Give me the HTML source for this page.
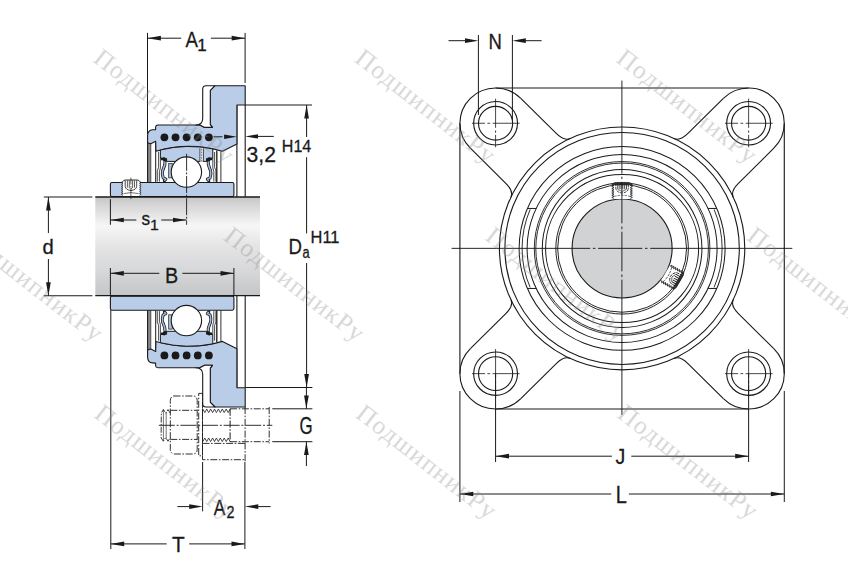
<!DOCTYPE html>
<html><head><meta charset="utf-8"><title>Flanged bearing unit</title>
<style>html,body{margin:0;padding:0;background:#fff;}svg{display:block;}</style></head>
<body>
<svg width="848" height="576" viewBox="0 0 848 576">
<defs>
<linearGradient id="sh" x1="0" y1="0" x2="0" y2="1"><stop offset="0" stop-color="#c6c6c7"/><stop offset="0.1" stop-color="#d8d8d9"/><stop offset="0.29" stop-color="#f6f6f6"/><stop offset="0.5" stop-color="#e4e4e5"/><stop offset="0.76" stop-color="#d6d7d9"/><stop offset="1" stop-color="#c4c5c7"/></linearGradient>
</defs>
<rect width="848" height="576" fill="#ffffff"/>
<line x1="236.9" y1="105" x2="236.9" y2="387.6" stroke="#1a1a1a" stroke-width="1.1" />
<line x1="245.2" y1="105" x2="245.2" y2="387.6" stroke="#1a1a1a" stroke-width="1.1" />
<g id="uh"><rect x="147.6" y="142.8" width="3.1" height="39.7" fill="#8a8a8a"/>
<line x1="147.6" y1="135" x2="147.6" y2="182.5" stroke="#1a1a1a" stroke-width="1.1" />
<line x1="150.8" y1="143.5" x2="150.8" y2="182.5" stroke="#1a1a1a" stroke-width="0.7" />
<line x1="155.7" y1="143" x2="155.7" y2="182.5" stroke="#1a1a1a" stroke-width="1.0" />
<line x1="216.8" y1="150.5" x2="216.8" y2="182.5" stroke="#1a1a1a" stroke-width="1.3" />
<line x1="220.9" y1="151.2" x2="220.9" y2="182.5" stroke="#1a1a1a" stroke-width="0.9" />
<path d="M215,85.7 L245.2,85.7 L245.2,105 L236.9,105 L236.9,143.9 L222.5,151.3 A119,119 0 0 0 155.9,151.2 L155.7,141.3 L150.8,143.7 L147.6,142.7 L147.6,135.5 Q147.8,130.2 152.5,129.8 L155.6,129.6 L155.6,127 Q155.8,125 158,125 L196,125 L199.9,124.9 L204.6,127.4 L212.4,127.4 L210.3,124.6 L210.3,90.4 Z" fill="#b9cde9" stroke="#1a1a1a" stroke-width="1.1" stroke-linejoin="round"/>
<path d="M196,125 Q202.7,124.6 202.7,118.5 L202.7,89 Q202.7,85.7 206,85.7 L215,85.7 L210.3,90.4 L210.3,124.6 L212.4,127.4 L204.6,127.4 L199.9,124.9 Z" fill="#fff" stroke="#1a1a1a" stroke-width="1.1" stroke-linejoin="round"/>
<circle cx="164.40" cy="137.3" r="3.9" fill="#1a1a1a"/>
<circle cx="175.52" cy="137.3" r="3.9" fill="#1a1a1a"/>
<circle cx="186.64" cy="137.3" r="3.9" fill="#1a1a1a"/>
<circle cx="197.76" cy="137.3" r="3.9" fill="#1a1a1a"/>
<circle cx="208.88" cy="137.3" r="3.9" fill="#1a1a1a"/>
<path d="M160.4,149.99 A119,119 0 0 1 212.8,148.90 L212.8,158.4 L206.6,158.4 L206.6,161.4 L166.6,161.4 L166.6,158.4 L160.4,158.4 Z" fill="#b9cde9" stroke="#1a1a1a" stroke-width="1" stroke-linejoin="round"/>
<rect x="168.7" y="163.6" width="3.5" height="14.3" fill="#a9bfe0" stroke="#1a1a1a" stroke-width="0.7"/>
<path d="M158.60,152 L158.60,167.4 L157.30,170.8 L157.30,181.6" stroke="#1a1a1a" stroke-width="0.8" fill="none"/>
<path d="M160.40,158.4 L160.40,168 L159.40,171.5 L159.40,181.6" stroke="#1a1a1a" stroke-width="0.8" fill="none"/>
<path d="M165.00,161.0 C165.60,165 163.60,168 162.70,170.4 C162.00,173 162.40,176 163.20,177.9 L165.80,179.2 L164.40,180.8" stroke="#1a1a1a" stroke-width="3.1" fill="none" stroke-linecap="round" stroke-linejoin="round"/>
<path d="M165.00,161.0 C165.60,165 163.60,168 162.70,170.4 C162.00,173 162.40,176 163.20,177.9 L165.80,179.2 L164.40,180.8" stroke="#9fb9e2" stroke-width="1.5" fill="none" stroke-linecap="butt" stroke-linejoin="round"/>
<path d="M161.00,157.8 L163.20,157.6 L164.20,156.9 L166.60,159.4 L166.00,162 L163.80,161.0 L162.60,160.2 L161.00,160.2 Z" fill="#1a1a1a"/>
<path d="M214.60,152 L214.60,167.4 L215.90,170.8 L215.90,181.6" stroke="#1a1a1a" stroke-width="0.8" fill="none"/>
<path d="M212.80,158.4 L212.80,168 L213.80,171.5 L213.80,181.6" stroke="#1a1a1a" stroke-width="0.8" fill="none"/>
<path d="M208.20,161.0 C207.60,165 209.60,168 210.50,170.4 C211.20,173 210.80,176 210.00,177.9 L207.40,179.2 L208.80,180.8" stroke="#1a1a1a" stroke-width="3.1" fill="none" stroke-linecap="round" stroke-linejoin="round"/>
<path d="M208.20,161.0 C207.60,165 209.60,168 210.50,170.4 C211.20,173 210.80,176 210.00,177.9 L207.40,179.2 L208.80,180.8" stroke="#9fb9e2" stroke-width="1.5" fill="none" stroke-linecap="butt" stroke-linejoin="round"/>
<path d="M212.20,157.8 L210.00,157.6 L209.00,156.9 L206.60,159.4 L207.20,162 L209.40,161.0 L210.60,160.2 L212.20,160.2 Z" fill="#1a1a1a"/>
<rect x="110.4" y="182.5" width="123.5" height="14.1" rx="1.6" fill="#b9cde9" stroke="#1a1a1a" stroke-width="1.1"/>
<circle cx="186.4" cy="172.1" r="15.2" fill="#fff" stroke="#1a1a1a" stroke-width="1.1"/></g>
<g transform="translate(0 492.7) scale(1 -1)"><rect x="147.6" y="142.8" width="3.1" height="39.7" fill="#8a8a8a"/>
<line x1="147.6" y1="135" x2="147.6" y2="182.5" stroke="#1a1a1a" stroke-width="1.1" />
<line x1="150.8" y1="143.5" x2="150.8" y2="182.5" stroke="#1a1a1a" stroke-width="0.7" />
<line x1="155.7" y1="143" x2="155.7" y2="182.5" stroke="#1a1a1a" stroke-width="1.0" />
<line x1="216.8" y1="150.5" x2="216.8" y2="182.5" stroke="#1a1a1a" stroke-width="1.3" />
<line x1="220.9" y1="151.2" x2="220.9" y2="182.5" stroke="#1a1a1a" stroke-width="0.9" />
<path d="M215,85.7 L245.2,85.7 L245.2,105 L236.9,105 L236.9,143.9 L222.5,151.3 A119,119 0 0 0 155.9,151.2 L155.7,141.3 L150.8,143.7 L147.6,142.7 L147.6,135.5 Q147.8,130.2 152.5,129.8 L155.6,129.6 L155.6,127 Q155.8,125 158,125 L196,125 L199.9,124.9 L204.6,127.4 L212.4,127.4 L210.3,124.6 L210.3,90.4 Z" fill="#b9cde9" stroke="#1a1a1a" stroke-width="1.1" stroke-linejoin="round"/>
<path d="M196,125 Q202.7,124.6 202.7,118.5 L202.7,89 Q202.7,85.7 206,85.7 L215,85.7 L210.3,90.4 L210.3,124.6 L212.4,127.4 L204.6,127.4 L199.9,124.9 Z" fill="#fff" stroke="#1a1a1a" stroke-width="1.1" stroke-linejoin="round"/>
<circle cx="164.40" cy="137.3" r="3.9" fill="#1a1a1a"/>
<circle cx="175.52" cy="137.3" r="3.9" fill="#1a1a1a"/>
<circle cx="186.64" cy="137.3" r="3.9" fill="#1a1a1a"/>
<circle cx="197.76" cy="137.3" r="3.9" fill="#1a1a1a"/>
<circle cx="208.88" cy="137.3" r="3.9" fill="#1a1a1a"/>
<path d="M160.4,149.99 A119,119 0 0 1 212.8,148.90 L212.8,158.4 L206.6,158.4 L206.6,161.4 L166.6,161.4 L166.6,158.4 L160.4,158.4 Z" fill="#b9cde9" stroke="#1a1a1a" stroke-width="1" stroke-linejoin="round"/>
<rect x="168.7" y="163.6" width="3.5" height="14.3" fill="#a9bfe0" stroke="#1a1a1a" stroke-width="0.7"/>
<path d="M158.60,152 L158.60,167.4 L157.30,170.8 L157.30,181.6" stroke="#1a1a1a" stroke-width="0.8" fill="none"/>
<path d="M160.40,158.4 L160.40,168 L159.40,171.5 L159.40,181.6" stroke="#1a1a1a" stroke-width="0.8" fill="none"/>
<path d="M165.00,161.0 C165.60,165 163.60,168 162.70,170.4 C162.00,173 162.40,176 163.20,177.9 L165.80,179.2 L164.40,180.8" stroke="#1a1a1a" stroke-width="3.1" fill="none" stroke-linecap="round" stroke-linejoin="round"/>
<path d="M165.00,161.0 C165.60,165 163.60,168 162.70,170.4 C162.00,173 162.40,176 163.20,177.9 L165.80,179.2 L164.40,180.8" stroke="#9fb9e2" stroke-width="1.5" fill="none" stroke-linecap="butt" stroke-linejoin="round"/>
<path d="M161.00,157.8 L163.20,157.6 L164.20,156.9 L166.60,159.4 L166.00,162 L163.80,161.0 L162.60,160.2 L161.00,160.2 Z" fill="#1a1a1a"/>
<path d="M214.60,152 L214.60,167.4 L215.90,170.8 L215.90,181.6" stroke="#1a1a1a" stroke-width="0.8" fill="none"/>
<path d="M212.80,158.4 L212.80,168 L213.80,171.5 L213.80,181.6" stroke="#1a1a1a" stroke-width="0.8" fill="none"/>
<path d="M208.20,161.0 C207.60,165 209.60,168 210.50,170.4 C211.20,173 210.80,176 210.00,177.9 L207.40,179.2 L208.80,180.8" stroke="#1a1a1a" stroke-width="3.1" fill="none" stroke-linecap="round" stroke-linejoin="round"/>
<path d="M208.20,161.0 C207.60,165 209.60,168 210.50,170.4 C211.20,173 210.80,176 210.00,177.9 L207.40,179.2 L208.80,180.8" stroke="#9fb9e2" stroke-width="1.5" fill="none" stroke-linecap="butt" stroke-linejoin="round"/>
<path d="M212.20,157.8 L210.00,157.6 L209.00,156.9 L206.60,159.4 L207.20,162 L209.40,161.0 L210.60,160.2 L212.20,160.2 Z" fill="#1a1a1a"/>
<rect x="110.4" y="182.5" width="123.5" height="14.1" rx="1.6" fill="#b9cde9" stroke="#1a1a1a" stroke-width="1.1"/>
<circle cx="186.4" cy="172.1" r="15.2" fill="#fff" stroke="#1a1a1a" stroke-width="1.1"/></g>
<rect x="199.9" y="148.3" width="3.6" height="13.6" fill="#e4e8ee"/>
<line x1="199.9" y1="148.2" x2="199.9" y2="162" stroke="#1a1a1a" stroke-width="0.7" />
<line x1="203.5" y1="148.4" x2="203.5" y2="162" stroke="#1a1a1a" stroke-width="0.7" />
<line x1="201.7" y1="149" x2="201.7" y2="162" stroke="#1a1a1a" stroke-width="0.6" stroke-dasharray="1.5 1.2"/>
<rect x="95.3" y="197" width="164.7" height="98.7" fill="url(#sh)"/>
<line x1="43.8" y1="197" x2="92.4" y2="197" stroke="#1a1a1a" stroke-width="1.1" />
<line x1="95.3" y1="197" x2="260" y2="197" stroke="#1a1a1a" stroke-width="1.3" />
<line x1="43.8" y1="295.7" x2="92.4" y2="295.7" stroke="#1a1a1a" stroke-width="1.1" />
<line x1="95.3" y1="295.7" x2="260" y2="295.7" stroke="#1a1a1a" stroke-width="1.3" />
<path d="M122.6,182 Q122.6,180 125,180 L137.3,180 Q139.9,180 139.9,182 L139.9,196 L122.6,196 Z" fill="#fff" stroke="none"/>
<path d="M122.8,181.5 L121.4,182.3 L123.0,183.3 L121.4,184.3 L123.0,185.3 L121.4,186.3 L123.0,187.3 L121.4,188.3 L123.0,189.3 L121.4,190.3 L123.0,191.3 L121.4,192.3 L123.0,193.3 L121.4,194.3 L123.0,195.3" fill="none" stroke="#1a1a1a" stroke-width="0.7"/>
<path d="M139.7,181.5 L141.1,182.3 L139.5,183.3 L141.1,184.3 L139.5,185.3 L141.1,186.3 L139.5,187.3 L141.1,188.3 L139.5,189.3 L141.1,190.3 L139.5,191.3 L141.1,192.3 L139.5,193.3 L141.1,194.3 L139.5,195.3" fill="none" stroke="#1a1a1a" stroke-width="0.7"/>
<path d="M123,181.6 Q123.4,180 125.4,180 L137,180 Q139.3,180 139.6,181.6" fill="none" stroke="#1a1a1a" stroke-width="0.9"/>
<path d="M125.2,180.4 L125.2,186.5 Q125.6,189.8 130.9,190.6 Q136.3,189.8 136.7,186.5 L136.7,180.4" fill="none" stroke="#1a1a1a" stroke-width="0.8"/>
<line x1="127.4" y1="180.4" x2="127.4" y2="187.6" stroke="#1a1a1a" stroke-width="0.7" />
<line x1="129.3" y1="180.4" x2="129.3" y2="187.6" stroke="#1a1a1a" stroke-width="0.7" />
<line x1="132.6" y1="180.4" x2="132.6" y2="187.6" stroke="#1a1a1a" stroke-width="0.7" />
<line x1="134.5" y1="180.4" x2="134.5" y2="187.6" stroke="#1a1a1a" stroke-width="0.7" />
<path d="M129.3,187.6 L130.9,189.2 L132.6,187.6" fill="none" stroke="#1a1a1a" stroke-width="0.7"/>
<path d="M123.5,193.6 Q131,191.6 138.6,193.6" fill="none" stroke="#1a1a1a" stroke-width="0.6"/>
<line x1="130.9" y1="177.6" x2="130.9" y2="199.8" stroke="#1a1a1a" stroke-width="0.7" stroke-dasharray="7 1.5 1.5 1.5"/>
<line x1="186.6" y1="153.8" x2="186.6" y2="224.8" stroke="#1a1a1a" stroke-width="0.9" stroke-dasharray="17 1.6 2 1.6"/>
<path d="M173.5,396 L194,396 Q197.2,397 197.2,400.5 L197.2,449.5 Q197.2,453 194,454 L173.5,454 Q170.3,453 170.3,449.5 L170.3,400.5 Q170.3,397 173.5,396 Z" fill="none" stroke="#1a1a1a" stroke-width="0.9" stroke-dasharray="7 1.6 1.6 1.6"/>
<path d="M170.3,410.3 L197.2,410.3 M170.3,439.4 L197.2,439.4" fill="none" stroke="#1a1a1a" stroke-width="0.9" stroke-dasharray="7 1.6 1.6 1.6"/>
<rect x="198.7" y="393.4" width="3.8" height="62.4" fill="none" stroke="#1a1a1a" stroke-width="0.9" stroke-dasharray="7 1.6 1.6 1.6"/>
<path d="M170.3,413.2 L168,409.6 L165.7,413.2 L163.4,409.6 L161.3,413.0 L161.1,437.9 L163.4,441.2 L165.7,437.6 L168,441.2 L170.3,437.6" fill="none" stroke="#1a1a1a" stroke-width="0.85" stroke-dasharray="6 1.4 1.4 1.4"/>
<path d="M163.4,409.5 L163.4,441 M166.2,412 L166.2,438.6" fill="none" stroke="#1a1a1a" stroke-width="0.6"/>
<line x1="158.8" y1="425.3" x2="272.3" y2="425.3" stroke="#1a1a1a" stroke-width="0.9" stroke-dasharray="16 1.8 2 1.8"/>
<path d="M202.8,409.0 L204.8,412.6 L206.7,409.0 L208.7,412.6 L210.6,409.0 L212.6,412.6 L214.5,409.0 L216.4,412.6 L218.4,409.0 L220.3,412.6 L222.3,409.0 L224.2,412.6 L226.2,409.0 L228.2,412.6 L230.1,409.0" fill="none" stroke="#1a1a1a" stroke-width="0.8"/>
<path d="M202.8,441.6 L204.8,438.0 L206.7,441.6 L208.7,438.0 L210.6,441.6 L212.6,438.0 L214.5,441.6 L216.4,438.0 L218.4,441.6 L220.3,438.0 L222.3,441.6 L224.2,438.0 L226.2,441.6 L228.2,438.0 L230.1,441.6" fill="none" stroke="#1a1a1a" stroke-width="0.8"/>
<line x1="230.1" y1="408.8" x2="230.1" y2="441.7" stroke="#1a1a1a" stroke-width="1" stroke-dasharray="7 1.6 1.6 1.6"/>
<path d="M230.1,408.8 L269.2,408.8 M230.1,441.7 L269.2,441.7 M269.2,407 L269.2,443.4" fill="none" stroke="#1a1a1a" stroke-width="0.9" stroke-dasharray="7 1.6 1.6 1.6"/>
<path d="M202.5,408.5 L202.5,459.7 L245.1,459.7 M245.1,407 L245.1,462 M202.5,443.4 L245.1,443.4" fill="none" stroke="#1a1a1a" stroke-width="0.9" stroke-dasharray="7 1.6 1.6 1.6"/>
<line x1="147.5" y1="32.9" x2="147.5" y2="134" stroke="#1a1a1a" stroke-width="1" />
<line x1="245.1" y1="32.9" x2="245.1" y2="83" stroke="#1a1a1a" stroke-width="1" />
<line x1="147.5" y1="38.2" x2="181.2" y2="38.2" stroke="#1a1a1a" stroke-width="1" />
<line x1="210.9" y1="38.2" x2="245.1" y2="38.2" stroke="#1a1a1a" stroke-width="1" />
<polygon points="147.50,38.20 160.90,35.85 160.90,40.55" fill="#1a1a1a"/>
<polygon points="245.10,38.20 231.70,35.85 231.70,40.55" fill="#1a1a1a"/>
<text transform="translate(185.50 47.10) scale(0.814 1)" font-family="Liberation Sans, sans-serif" font-size="22.90" fill="#1a1a1a" stroke="#1a1a1a" stroke-width="0.3">A</text>
<text transform="translate(197.34 51.30) scale(0.993 1)" font-family="Liberation Sans, sans-serif" font-size="17.10" fill="#1a1a1a" stroke="#1a1a1a" stroke-width="0.3">1</text>
<line x1="213.5" y1="136.8" x2="226" y2="136.8" stroke="#1a1a1a" stroke-width="1" stroke-dasharray="9 2"/>
<polygon points="236.90,136.80 224.10,134.60 224.10,139.00" fill="#1a1a1a"/>
<polygon points="245.20,136.40 258.00,134.20 258.00,138.60" fill="#1a1a1a"/>
<line x1="255" y1="136.4" x2="273.8" y2="136.4" stroke="#1a1a1a" stroke-width="1" />
<text transform="translate(246.55 162.28) scale(0.957 1)" font-family="Liberation Sans, sans-serif" font-size="22.11" fill="#1a1a1a" stroke="#1a1a1a" stroke-width="0.3">3,2</text>
<text transform="translate(281.82 151.70) scale(0.963 1)" font-family="Liberation Sans, sans-serif" font-size="16.67" fill="#1a1a1a" stroke="#1a1a1a" stroke-width="0.3">H14</text>
<line x1="245.2" y1="105" x2="312" y2="105" stroke="#1a1a1a" stroke-width="1" />
<line x1="245.2" y1="387.5" x2="312.4" y2="387.5" stroke="#1a1a1a" stroke-width="1" />
<line x1="306.6" y1="105" x2="306.6" y2="137" stroke="#1a1a1a" stroke-width="1" />
<line x1="306.6" y1="157.2" x2="306.6" y2="233.4" stroke="#1a1a1a" stroke-width="1" />
<line x1="306.6" y1="263" x2="306.6" y2="387.5" stroke="#1a1a1a" stroke-width="1" />
<polygon points="306.60,105.00 304.25,118.40 308.95,118.40" fill="#1a1a1a"/>
<polygon points="306.60,387.50 304.25,374.10 308.95,374.10" fill="#1a1a1a"/>
<text transform="translate(288.61 254.30) scale(0.819 1)" font-family="Liberation Sans, sans-serif" font-size="22.75" fill="#1a1a1a" stroke="#1a1a1a" stroke-width="0.3">D</text>
<text transform="translate(302.38 258.14) scale(0.824 1)" font-family="Liberation Sans, sans-serif" font-size="15.64" fill="#1a1a1a" stroke="#1a1a1a" stroke-width="0.3">a</text>
<text transform="translate(310.58 242.70) scale(0.995 1)" font-family="Liberation Sans, sans-serif" font-size="16.52" fill="#1a1a1a" stroke="#1a1a1a" stroke-width="0.3">H11</text>
<line x1="272.3" y1="408.8" x2="312.4" y2="408.8" stroke="#1a1a1a" stroke-width="1" />
<line x1="272.3" y1="441.7" x2="312.4" y2="441.7" stroke="#1a1a1a" stroke-width="1" />
<line x1="306.4" y1="387.5" x2="306.4" y2="408.8" stroke="#1a1a1a" stroke-width="1" />
<polygon points="306.40,408.80 304.05,395.40 308.75,395.40" fill="#1a1a1a"/>
<line x1="306.4" y1="441.7" x2="306.4" y2="466" stroke="#1a1a1a" stroke-width="1" />
<polygon points="306.40,441.70 304.05,455.10 308.75,455.10" fill="#1a1a1a"/>
<text transform="translate(299.55 433.86) scale(0.719 1)" font-family="Liberation Sans, sans-serif" font-size="23.52" fill="#1a1a1a" stroke="#1a1a1a" stroke-width="0.3">G</text>
<line x1="48.4" y1="197" x2="48.4" y2="233" stroke="#1a1a1a" stroke-width="1" />
<line x1="48.4" y1="259" x2="48.4" y2="295.7" stroke="#1a1a1a" stroke-width="1" />
<polygon points="48.40,197.00 46.05,210.40 50.75,210.40" fill="#1a1a1a"/>
<polygon points="48.40,295.70 46.05,282.30 50.75,282.30" fill="#1a1a1a"/>
<text transform="translate(42.49 254.30) scale(1.025 1)" font-family="Liberation Sans, sans-serif" font-size="19.73" fill="#1a1a1a" stroke="#1a1a1a" stroke-width="0.3">d</text>
<line x1="110.4" y1="199.2" x2="110.4" y2="224.8" stroke="#1a1a1a" stroke-width="1" />
<line x1="110.4" y1="220" x2="136.3" y2="220" stroke="#1a1a1a" stroke-width="1" />
<line x1="161.3" y1="220" x2="186.4" y2="220" stroke="#1a1a1a" stroke-width="1" />
<polygon points="110.40,220.00 123.80,217.65 123.80,222.35" fill="#1a1a1a"/>
<polygon points="186.40,220.00 173.00,217.65 173.00,222.35" fill="#1a1a1a"/>
<text transform="translate(141.48 225.31) scale(0.928 1)" font-family="Liberation Sans, sans-serif" font-size="18.55" fill="#1a1a1a" stroke="#1a1a1a" stroke-width="0.3">s</text>
<text transform="translate(149.93 230.40) scale(1.020 1)" font-family="Liberation Sans, sans-serif" font-size="15.51" fill="#1a1a1a" stroke="#1a1a1a" stroke-width="0.3">1</text>
<line x1="110.4" y1="268" x2="110.4" y2="295.7" stroke="#1a1a1a" stroke-width="1" />
<line x1="233.9" y1="268" x2="233.9" y2="295.7" stroke="#1a1a1a" stroke-width="1" />
<line x1="110.4" y1="273.3" x2="159.3" y2="273.3" stroke="#1a1a1a" stroke-width="1" />
<line x1="182.4" y1="273.3" x2="233.9" y2="273.3" stroke="#1a1a1a" stroke-width="1" />
<polygon points="110.40,273.30 123.80,270.95 123.80,275.65" fill="#1a1a1a"/>
<polygon points="233.90,273.30 220.50,270.95 220.50,275.65" fill="#1a1a1a"/>
<text transform="translate(165.02 283.30) scale(0.882 1)" font-family="Liberation Sans, sans-serif" font-size="22.46" fill="#1a1a1a" stroke="#1a1a1a" stroke-width="0.3">B</text>
<line x1="110.8" y1="310" x2="110.8" y2="549" stroke="#1a1a1a" stroke-width="1" />
<line x1="244.9" y1="462" x2="244.9" y2="549" stroke="#1a1a1a" stroke-width="1" />
<line x1="110.8" y1="543.9" x2="166.7" y2="543.9" stroke="#1a1a1a" stroke-width="1" />
<line x1="189.2" y1="543.9" x2="244.9" y2="543.9" stroke="#1a1a1a" stroke-width="1" />
<polygon points="110.80,543.90 124.20,541.55 124.20,546.25" fill="#1a1a1a"/>
<polygon points="244.90,543.90 231.50,541.55 231.50,546.25" fill="#1a1a1a"/>
<text transform="translate(171.98 552.10) scale(0.912 1)" font-family="Liberation Sans, sans-serif" font-size="22.90" fill="#1a1a1a" stroke="#1a1a1a" stroke-width="0.3">T</text>
<line x1="202.6" y1="462" x2="202.6" y2="511.3" stroke="#1a1a1a" stroke-width="1" />
<line x1="177.4" y1="506.6" x2="190" y2="506.6" stroke="#1a1a1a" stroke-width="1" />
<polygon points="202.60,506.60 189.20,504.25 189.20,508.95" fill="#1a1a1a"/>
<polygon points="244.90,506.60 258.30,504.25 258.30,508.95" fill="#1a1a1a"/>
<line x1="257" y1="506.6" x2="270.6" y2="506.6" stroke="#1a1a1a" stroke-width="1" />
<text transform="translate(213.80 514.70) scale(0.754 1)" font-family="Liberation Sans, sans-serif" font-size="22.90" fill="#1a1a1a" stroke="#1a1a1a" stroke-width="0.3">A</text>
<text transform="translate(226.38 518.40) scale(0.830 1)" font-family="Liberation Sans, sans-serif" font-size="17.29" fill="#1a1a1a" stroke="#1a1a1a" stroke-width="0.3">2</text>
<g transform="matrix(1.0105 0 0 1 622.1 248.45)">
<path d="M-125.2,-160.5 L125.2,-160.5 M160.5,-125.2 L160.5,125.2 M125.2,160.5 L-125.2,160.5 M-160.5,125.2 L-160.5,-125.2" fill="none" stroke="#1a1a1a" stroke-width="1.1"/>
<path d="M-100.24,-150.16 L-65.17,-115.09 Q-57.17,-107.09 -51.20,-110.08" fill="none" stroke="#1a1a1a" stroke-width="1.1"/>
<path d="M-150.16,-100.24 L-115.09,-65.17 Q-107.09,-57.17 -110.08,-51.20" fill="none" stroke="#1a1a1a" stroke-width="1.1"/>
<path d="M-100.24,-150.16 A35.3,35.3 0 0 0 -150.16,-150.16 A35.3,35.3 0 0 0 -150.16,-100.24" fill="none" stroke="#1a1a1a" stroke-width="1.1"/>
<circle cx="-125.2" cy="-125.2" r="21.7" fill="none" stroke="#1a1a1a" stroke-width="1.1"/>
<circle cx="-125.2" cy="-125.2" r="16.9" fill="none" stroke="#1a1a1a" stroke-width="1.1"/>
<line x1="-148.60" y1="-125.20" x2="-135.60" y2="-125.20" stroke="#1a1a1a" stroke-width="0.8"/>
<line x1="-133.30" y1="-125.20" x2="-130.60" y2="-125.20" stroke="#1a1a1a" stroke-width="0.8"/>
<line x1="-128.10" y1="-125.20" x2="-101.40" y2="-125.20" stroke="#1a1a1a" stroke-width="0.8"/>
<line x1="-125.20" y1="-149.80" x2="-125.20" y2="-120.60" stroke="#1a1a1a" stroke-width="0.8"/>
<line x1="-125.20" y1="-118.00" x2="-125.20" y2="-115.60" stroke="#1a1a1a" stroke-width="0.8"/>
<line x1="-125.20" y1="-113.60" x2="-125.20" y2="-101.20" stroke="#1a1a1a" stroke-width="0.8"/>
<path d="M-100.24,150.16 L-65.17,115.09 Q-57.17,107.09 -51.20,110.08" fill="none" stroke="#1a1a1a" stroke-width="1.1"/>
<path d="M-150.16,100.24 L-115.09,65.17 Q-107.09,57.17 -110.08,51.20" fill="none" stroke="#1a1a1a" stroke-width="1.1"/>
<path d="M-100.24,150.16 A35.3,35.3 0 0 1 -150.16,150.16 A35.3,35.3 0 0 1 -150.16,100.24" fill="none" stroke="#1a1a1a" stroke-width="1.1"/>
<circle cx="-125.2" cy="125.2" r="21.7" fill="none" stroke="#1a1a1a" stroke-width="1.1"/>
<circle cx="-125.2" cy="125.2" r="16.9" fill="none" stroke="#1a1a1a" stroke-width="1.1"/>
<line x1="-148.60" y1="125.20" x2="-135.60" y2="125.20" stroke="#1a1a1a" stroke-width="0.8"/>
<line x1="-133.30" y1="125.20" x2="-130.60" y2="125.20" stroke="#1a1a1a" stroke-width="0.8"/>
<line x1="-128.10" y1="125.20" x2="-101.40" y2="125.20" stroke="#1a1a1a" stroke-width="0.8"/>
<line x1="-125.20" y1="100.60" x2="-125.20" y2="129.80" stroke="#1a1a1a" stroke-width="0.8"/>
<line x1="-125.20" y1="132.40" x2="-125.20" y2="134.80" stroke="#1a1a1a" stroke-width="0.8"/>
<line x1="-125.20" y1="136.80" x2="-125.20" y2="149.20" stroke="#1a1a1a" stroke-width="0.8"/>
<path d="M100.24,-150.16 L65.17,-115.09 Q57.17,-107.09 51.20,-110.08" fill="none" stroke="#1a1a1a" stroke-width="1.1"/>
<path d="M150.16,-100.24 L115.09,-65.17 Q107.09,-57.17 110.08,-51.20" fill="none" stroke="#1a1a1a" stroke-width="1.1"/>
<path d="M100.24,-150.16 A35.3,35.3 0 0 1 150.16,-150.16 A35.3,35.3 0 0 1 150.16,-100.24" fill="none" stroke="#1a1a1a" stroke-width="1.1"/>
<circle cx="125.2" cy="-125.2" r="21.7" fill="none" stroke="#1a1a1a" stroke-width="1.1"/>
<circle cx="125.2" cy="-125.2" r="16.9" fill="none" stroke="#1a1a1a" stroke-width="1.1"/>
<line x1="101.80" y1="-125.20" x2="114.80" y2="-125.20" stroke="#1a1a1a" stroke-width="0.8"/>
<line x1="117.10" y1="-125.20" x2="119.80" y2="-125.20" stroke="#1a1a1a" stroke-width="0.8"/>
<line x1="122.30" y1="-125.20" x2="149.00" y2="-125.20" stroke="#1a1a1a" stroke-width="0.8"/>
<line x1="125.20" y1="-149.80" x2="125.20" y2="-120.60" stroke="#1a1a1a" stroke-width="0.8"/>
<line x1="125.20" y1="-118.00" x2="125.20" y2="-115.60" stroke="#1a1a1a" stroke-width="0.8"/>
<line x1="125.20" y1="-113.60" x2="125.20" y2="-101.20" stroke="#1a1a1a" stroke-width="0.8"/>
<path d="M100.24,150.16 L65.17,115.09 Q57.17,107.09 51.20,110.08" fill="none" stroke="#1a1a1a" stroke-width="1.1"/>
<path d="M150.16,100.24 L115.09,65.17 Q107.09,57.17 110.08,51.20" fill="none" stroke="#1a1a1a" stroke-width="1.1"/>
<path d="M100.24,150.16 A35.3,35.3 0 0 0 150.16,150.16 A35.3,35.3 0 0 0 150.16,100.24" fill="none" stroke="#1a1a1a" stroke-width="1.1"/>
<circle cx="125.2" cy="125.2" r="21.7" fill="none" stroke="#1a1a1a" stroke-width="1.1"/>
<circle cx="125.2" cy="125.2" r="16.9" fill="none" stroke="#1a1a1a" stroke-width="1.1"/>
<line x1="101.80" y1="125.20" x2="114.80" y2="125.20" stroke="#1a1a1a" stroke-width="0.8"/>
<line x1="117.10" y1="125.20" x2="119.80" y2="125.20" stroke="#1a1a1a" stroke-width="0.8"/>
<line x1="122.30" y1="125.20" x2="149.00" y2="125.20" stroke="#1a1a1a" stroke-width="0.8"/>
<line x1="125.20" y1="100.60" x2="125.20" y2="129.80" stroke="#1a1a1a" stroke-width="0.8"/>
<line x1="125.20" y1="132.40" x2="125.20" y2="134.80" stroke="#1a1a1a" stroke-width="0.8"/>
<line x1="125.20" y1="136.80" x2="125.20" y2="149.20" stroke="#1a1a1a" stroke-width="0.8"/>
<circle cx="0" cy="0" r="121.4" fill="none" stroke="#1a1a1a" stroke-width="1.1"/>
<circle cx="0" cy="0" r="116.0" fill="none" stroke="#1a1a1a" stroke-width="1.1"/>
<circle cx="0" cy="0" r="101.9" fill="none" stroke="#1a1a1a" stroke-width="1.0"/>
<circle cx="0" cy="0" r="94.0" fill="none" stroke="#1a1a1a" stroke-width="1.0"/>
<circle cx="0" cy="0" r="86.9" fill="none" stroke="#1a1a1a" stroke-width="0.9"/>
<circle cx="0" cy="0" r="85.4" fill="none" stroke="#1a1a1a" stroke-width="0.9"/>
<circle cx="0" cy="0" r="79.0" fill="none" stroke="#1a1a1a" stroke-width="1.0"/>
<circle cx="0" cy="0" r="65.6" fill="none" stroke="#1a1a1a" stroke-width="0.95"/>
<circle cx="0" cy="0" r="63.8" fill="none" stroke="#1a1a1a" stroke-width="0.95"/>
<ellipse cx="0" cy="0" rx="75.7" ry="74.0" fill="none" stroke="#1a1a1a" stroke-width="1.0"/>
<line x1="-93.72" y1="-40.00" x2="-85.06" y2="-40.00" stroke="#1a1a1a" stroke-width="1"/>
<line x1="-93.72" y1="40.00" x2="-85.06" y2="40.00" stroke="#1a1a1a" stroke-width="1"/>
<path d="M-90.99,-39 A99.0,99.0 0 0 0 -90.99,39" fill="none" stroke="#1a1a1a" stroke-width="0.9"/>
<line x1="93.72" y1="-40.00" x2="85.06" y2="-40.00" stroke="#1a1a1a" stroke-width="1"/>
<line x1="93.72" y1="40.00" x2="85.06" y2="40.00" stroke="#1a1a1a" stroke-width="1"/>
<path d="M90.99,-39 A99.0,99.0 0 0 1 90.99,39" fill="none" stroke="#1a1a1a" stroke-width="0.9"/>
<circle cx="0" cy="0" r="49.5" fill="#d1d2d4" stroke="#1a1a1a" stroke-width="1.1"/>
<g transform="rotate(0)"><rect x="-8.6" y="-64.6" width="17.2" height="15.2" fill="#fff"/><path d="M-8.4,-65.0 L-10.2,-64.00 L-8.0,-62.92 L-10.2,-61.84 L-8.0,-60.76 L-10.2,-59.68 L-8.0,-58.60 L-10.2,-57.52 L-8.0,-56.44 L-10.2,-55.36 L-8.0,-54.28 L-10.2,-53.20 L-8.0,-52.12 L-10.2,-51.04 L-8.0,-49.96" fill="none" stroke="#1a1a1a" stroke-width="0.8"/><path d="M8.4,-65.0 L10.2,-64.00 L8.0,-62.92 L10.2,-61.84 L8.0,-60.76 L10.2,-59.68 L8.0,-58.60 L10.2,-57.52 L8.0,-56.44 L10.2,-55.36 L8.0,-54.28 L10.2,-53.20 L8.0,-52.12 L10.2,-51.04 L8.0,-49.96" fill="none" stroke="#1a1a1a" stroke-width="0.8"/><path d="M-9.4,-63.4 Q-9.2,-65.9 -7,-66.0 L7,-66.0 Q9.2,-65.9 9.4,-63.4 Z" fill="#3a3a3a" stroke="#1a1a1a" stroke-width="0.5"/><path d="M-6.2,-65.4 L-6.2,-60 Q-5.6,-56.2 0,-55.4 Q5.6,-56.2 6.2,-60 L6.2,-65.4" fill="none" stroke="#1a1a1a" stroke-width="0.85" stroke-dasharray="3 0.8"/><line x1="-4.2" y1="-65.8" x2="-4.2" y2="-59.2" stroke="#1a1a1a" stroke-width="0.9"/><line x1="-2.1" y1="-65.8" x2="-2.1" y2="-59.2" stroke="#1a1a1a" stroke-width="0.9"/><line x1="0" y1="-65.8" x2="0" y2="-59.2" stroke="#1a1a1a" stroke-width="0.9"/><line x1="2.1" y1="-65.8" x2="2.1" y2="-59.2" stroke="#1a1a1a" stroke-width="0.9"/><line x1="4.2" y1="-65.8" x2="4.2" y2="-59.2" stroke="#1a1a1a" stroke-width="0.9"/><path d="M-4.2,-59 L0,-57 L4.2,-59" fill="none" stroke="#1a1a1a" stroke-width="0.6"/><path d="M-8,-52.0 Q0,-54.4 8,-52.0" fill="none" stroke="#1a1a1a" stroke-width="0.6" stroke-dasharray="2.5 1"/></g>
<g transform="rotate(120)"><rect x="-8.6" y="-64.6" width="17.2" height="15.2" fill="#fff"/><path d="M-8.4,-65.0 L-10.2,-64.00 L-8.0,-62.92 L-10.2,-61.84 L-8.0,-60.76 L-10.2,-59.68 L-8.0,-58.60 L-10.2,-57.52 L-8.0,-56.44 L-10.2,-55.36 L-8.0,-54.28 L-10.2,-53.20 L-8.0,-52.12 L-10.2,-51.04 L-8.0,-49.96" fill="none" stroke="#1a1a1a" stroke-width="0.8"/><path d="M8.4,-65.0 L10.2,-64.00 L8.0,-62.92 L10.2,-61.84 L8.0,-60.76 L10.2,-59.68 L8.0,-58.60 L10.2,-57.52 L8.0,-56.44 L10.2,-55.36 L8.0,-54.28 L10.2,-53.20 L8.0,-52.12 L10.2,-51.04 L8.0,-49.96" fill="none" stroke="#1a1a1a" stroke-width="0.8"/><path d="M-9.4,-63.4 Q-9.2,-65.9 -7,-66.0 L7,-66.0 Q9.2,-65.9 9.4,-63.4 Z" fill="#3a3a3a" stroke="#1a1a1a" stroke-width="0.5"/><path d="M-6.2,-65.4 L-6.2,-60 Q-5.6,-56.2 0,-55.4 Q5.6,-56.2 6.2,-60 L6.2,-65.4" fill="none" stroke="#1a1a1a" stroke-width="0.85" stroke-dasharray="3 0.8"/><line x1="-4.2" y1="-65.8" x2="-4.2" y2="-59.2" stroke="#1a1a1a" stroke-width="0.9"/><line x1="-2.1" y1="-65.8" x2="-2.1" y2="-59.2" stroke="#1a1a1a" stroke-width="0.9"/><line x1="0" y1="-65.8" x2="0" y2="-59.2" stroke="#1a1a1a" stroke-width="0.9"/><line x1="2.1" y1="-65.8" x2="2.1" y2="-59.2" stroke="#1a1a1a" stroke-width="0.9"/><line x1="4.2" y1="-65.8" x2="4.2" y2="-59.2" stroke="#1a1a1a" stroke-width="0.9"/><path d="M-4.2,-59 L0,-57 L4.2,-59" fill="none" stroke="#1a1a1a" stroke-width="0.6"/><path d="M-8,-52.0 Q0,-54.4 8,-52.0" fill="none" stroke="#1a1a1a" stroke-width="0.6" stroke-dasharray="2.5 1"/></g>
</g>
<line x1="621.9" y1="80.6" x2="621.9" y2="173.6" stroke="#1a1a1a" stroke-width="0.95" />
<line x1="621.9" y1="176.6" x2="621.9" y2="179" stroke="#1a1a1a" stroke-width="0.95" />
<line x1="621.9" y1="182" x2="621.9" y2="223.3" stroke="#1a1a1a" stroke-width="0.95" />
<line x1="621.9" y1="226.5" x2="621.9" y2="229.2" stroke="#1a1a1a" stroke-width="0.95" />
<line x1="621.9" y1="231.7" x2="621.9" y2="271.3" stroke="#1a1a1a" stroke-width="0.95" />
<line x1="621.9" y1="274.4" x2="621.9" y2="277.1" stroke="#1a1a1a" stroke-width="0.95" />
<line x1="621.9" y1="279.6" x2="621.9" y2="414.8" stroke="#1a1a1a" stroke-width="0.95" />
<line x1="451.6" y1="248.35" x2="590.2" y2="248.35" stroke="#1a1a1a" stroke-width="0.95" />
<line x1="592.9" y1="248.35" x2="595.4" y2="248.35" stroke="#1a1a1a" stroke-width="0.95" />
<line x1="598.1" y1="248.35" x2="642.3" y2="248.35" stroke="#1a1a1a" stroke-width="0.95" />
<line x1="645" y1="248.35" x2="647.5" y2="248.35" stroke="#1a1a1a" stroke-width="0.95" />
<line x1="650.2" y1="248.35" x2="792.3" y2="248.35" stroke="#1a1a1a" stroke-width="0.95" />
<line x1="478.4" y1="35" x2="478.4" y2="115" stroke="#1a1a1a" stroke-width="1" />
<line x1="512.4" y1="35" x2="512.4" y2="120" stroke="#1a1a1a" stroke-width="1" />
<line x1="448.5" y1="40.7" x2="466" y2="40.7" stroke="#1a1a1a" stroke-width="1" />
<polygon points="478.40,40.70 465.00,38.35 465.00,43.05" fill="#1a1a1a"/>
<polygon points="512.40,40.70 525.80,38.35 525.80,43.05" fill="#1a1a1a"/>
<line x1="525" y1="40.7" x2="541.6" y2="40.7" stroke="#1a1a1a" stroke-width="1" />
<text transform="translate(488.62 49.30) scale(0.817 1)" font-family="Liberation Sans, sans-serif" font-size="22.61" fill="#1a1a1a" stroke="#1a1a1a" stroke-width="0.3">N</text>
<line x1="495.58540000000005" y1="373.65" x2="495.58540000000005" y2="462" stroke="#1a1a1a" stroke-width="1" />
<line x1="748.6146" y1="373.65" x2="748.6146" y2="462" stroke="#1a1a1a" stroke-width="1" />
<line x1="495.58540000000005" y1="456.2" x2="611.9" y2="456.2" stroke="#1a1a1a" stroke-width="1" />
<line x1="631.3" y1="456.2" x2="748.6146" y2="456.2" stroke="#1a1a1a" stroke-width="1" />
<polygon points="495.59,456.20 508.99,453.85 508.99,458.55" fill="#1a1a1a"/>
<polygon points="748.61,456.20 735.21,453.85 735.21,458.55" fill="#1a1a1a"/>
<text transform="translate(615.61 463.87) scale(0.859 1)" font-family="Liberation Sans, sans-serif" font-size="22.71" fill="#1a1a1a" stroke="#1a1a1a" stroke-width="0.3">J</text>
<line x1="459.91475" y1="391" x2="459.91475" y2="502" stroke="#1a1a1a" stroke-width="1" />
<line x1="784.28525" y1="391" x2="784.28525" y2="502" stroke="#1a1a1a" stroke-width="1" />
<line x1="459.91475" y1="494" x2="611.3" y2="494" stroke="#1a1a1a" stroke-width="1" />
<line x1="628.9" y1="494" x2="784.28525" y2="494" stroke="#1a1a1a" stroke-width="1" />
<polygon points="459.91,494.00 473.31,491.65 473.31,496.35" fill="#1a1a1a"/>
<polygon points="784.29,494.00 770.89,491.65 770.89,496.35" fill="#1a1a1a"/>
<text transform="translate(615.70 503.20) scale(0.857 1)" font-family="Liberation Sans, sans-serif" font-size="23.33" fill="#1a1a1a" stroke="#1a1a1a" stroke-width="0.3">L</text>
<text x="92" y="61" transform="rotate(37.8 92 61)" font-family="Liberation Serif, serif" font-size="25.5" letter-spacing="1.2" fill="#858585" opacity="0.31">ПодшипникРу</text>
<text x="353.5" y="61" transform="rotate(37.8 353.5 61)" font-family="Liberation Serif, serif" font-size="25.5" letter-spacing="1.2" fill="#858585" opacity="0.31">ПодшипникРу</text>
<text x="615" y="61" transform="rotate(37.8 615 61)" font-family="Liberation Serif, serif" font-size="25.5" letter-spacing="1.2" fill="#858585" opacity="0.31">ПодшипникРу</text>
<text x="222.5" y="239" transform="rotate(37.8 222.5 239)" font-family="Liberation Serif, serif" font-size="25.5" letter-spacing="1.2" fill="#858585" opacity="0.31">ПодшипникРу</text>
<text x="484" y="239" transform="rotate(37.8 484 239)" font-family="Liberation Serif, serif" font-size="25.5" letter-spacing="1.2" fill="#858585" opacity="0.31">ПодшипникРу</text>
<text x="745.5" y="239" transform="rotate(37.8 745.5 239)" font-family="Liberation Serif, serif" font-size="25.5" letter-spacing="1.2" fill="#858585" opacity="0.31">ПодшипникРу</text>
<text x="-39" y="239" transform="rotate(37.8 -39 239)" font-family="Liberation Serif, serif" font-size="25.5" letter-spacing="1.2" fill="#858585" opacity="0.31">ПодшипникРу</text>
<text x="93" y="416.5" transform="rotate(37.8 93 416.5)" font-family="Liberation Serif, serif" font-size="25.5" letter-spacing="1.2" fill="#858585" opacity="0.31">ПодшипникРу</text>
<text x="354.5" y="416.5" transform="rotate(37.8 354.5 416.5)" font-family="Liberation Serif, serif" font-size="25.5" letter-spacing="1.2" fill="#858585" opacity="0.31">ПодшипникРу</text>
<text x="616" y="416.5" transform="rotate(37.8 616 416.5)" font-family="Liberation Serif, serif" font-size="25.5" letter-spacing="1.2" fill="#858585" opacity="0.31">ПодшипникРу</text>
</svg>
</body></html>
